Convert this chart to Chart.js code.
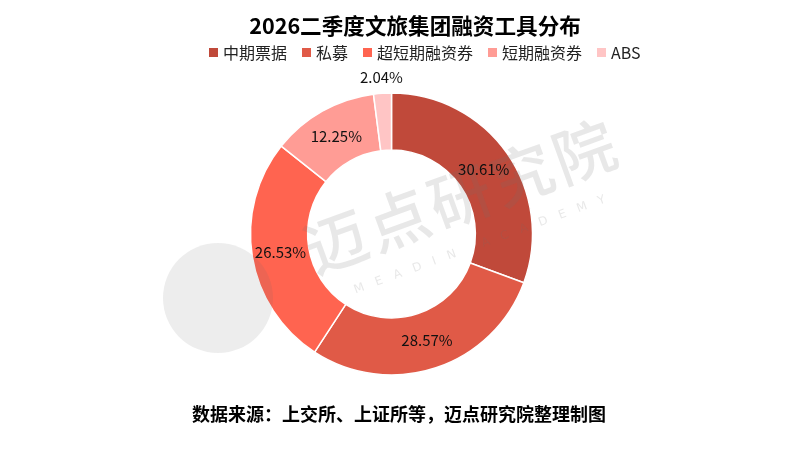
<!DOCTYPE html>
<html lang="zh">
<head>
<meta charset="utf-8">
<title>2026二季度文旅集团融资工具分布</title>
<script src="https://cdn.jsdelivr.net/npm/chart.js@4/dist/chart.umd.min.js"></script>
<style>
    html, body {
        margin: 0;
        padding: 0;
        background: #fff;
    }
    #wrap {
        position: relative;
        width: 800px;
        height: 456px;
        overflow: hidden;
        font-family: "Noto Sans CJK SC", "Noto Sans", sans-serif;
    }
    #chart {
        position: absolute;
        left: 0;
        top: 0;
    }
    #title {
        position: absolute;
        left: 30px;
        width: 770px;
        top: 10px;
        line-height: 30px;
        text-align: center;
        font-size: 21.6px;
        font-weight: bold;
        color: #000;
    }
    #legend {
        position: absolute;
        left: 209px;
        top: 41px;
        display: flex;
        align-items: center;
        font-size: 16px;
        line-height: 22px;
        color: #222;
    }
    #legend .item {
        display: flex;
        align-items: center;
        margin-right: 15px;
    }
    #legend .box {
        width: 9px;
        height: 9px;
        margin-right: 5px;
    }
    #source {
        position: absolute;
        left: 0;
        width: 798px;
        top: 399px;
        line-height: 28px;
        text-align: center;
        font-size: 18px;
        font-weight: bold;
        color: #000;
    }
</style>
</head>
<body>
<div id="wrap">
    <canvas id="chart" width="800" height="456"></canvas>
    <div id="title">2026二季度文旅集团融资工具分布</div>
    <div id="legend"></div>
    <div id="source">数据来源：上交所、上证所等，迈点研究院整理制图</div>
</div>
<script>
// Financing tool categories and their share (%), clockwise from 12 o'clock.
const categories = ['中期票据', '私募', '超短期融资券', '短期融资券', 'ABS'];
const shares = [30.61, 28.57, 26.53, 12.25, 2.04];
const sliceColors = ['#c0493a', '#e05a47', '#ff6450', '#ff9c95', '#ffc5c5'];

/**
 * Build the html legend from the categories.
 */
function buildLegend() {
    const legend = document.getElementById('legend');
    categories.forEach((name, i) => {
        const item = document.createElement('div');
        item.className = 'item';
        const box = document.createElement('span');
        box.className = 'box';
        box.style.background = sliceColors[i];
        const text = document.createElement('span');
        text.textContent = name;
        item.appendChild(box);
        item.appendChild(text);
        legend.appendChild(item);
    });
}

/**
 * Faint "迈点研究院" watermark drawn over the doughnut.
 */
const watermark = {
    id: 'watermark',
    afterDatasetsDraw(chart) {
        const ctx = chart.ctx;
        ctx.save();
        // round logo on the left
        ctx.fillStyle = 'rgba(110, 110, 110, 0.12)';
        ctx.beginPath();
        ctx.arc(218, 298, 55, 0, Math.PI * 2);
        ctx.fill();
        ctx.fillStyle = 'rgba(110, 110, 110, 0.16)';
        ctx.translate(462, 196);
        ctx.rotate(-20 * Math.PI / 180);
        ctx.textAlign = 'center';
        ctx.textBaseline = 'middle';
        ctx.font = '500 62px "Noto Sans CJK SC"';
        ctx.letterSpacing = '4px';
        ctx.fillText('迈点研究院', 0, 0);
        ctx.font = '12px "DejaVu Sans"';
        ctx.letterSpacing = '12px';
        ctx.fillText('MEADIN ACADEMY', 6, 52);
        ctx.restore();
    }
};

/**
 * Percentage labels in the middle of each ring slice; tiny slices go outside.
 */
const sliceLabels = {
    id: 'sliceLabels',
    afterDraw(chart) {
        const ctx = chart.ctx;
        const meta = chart.getDatasetMeta(0);
        ctx.save();
        ctx.font = '15px "Noto Sans CJK SC"';
        ctx.fillStyle = '#111';
        ctx.textAlign = 'center';
        ctx.textBaseline = 'middle';
        meta.data.forEach((arc, i) => {
            const p = arc.getProps(['x', 'y', 'startAngle', 'endAngle', 'innerRadius', 'outerRadius'], true);
            const mid = (p.startAngle + p.endAngle) / 2;
            const r = shares[i] < 5 ? p.outerRadius + 16 : (p.innerRadius + p.outerRadius) / 2;
            ctx.fillText(shares[i].toFixed(2) + '%', p.x + r * Math.cos(mid), p.y + r * Math.sin(mid));
        });
        ctx.restore();
    }
};

/**
 * Called when the DOM has been loaded.
 */
document.addEventListener('DOMContentLoaded', function() {
    buildLegend();
    const ctx = document.getElementById('chart').getContext('2d');
    new Chart(ctx, {
        type: 'doughnut',
        data: {
            labels: categories,
            datasets: [{
                data: shares,
                backgroundColor: sliceColors,
                borderColor: '#fff',
                borderWidth: 1.5,
                radius: 141,
                cutout: '59.5%'
            }]
        },
        options: {
            responsive: false,
            animation: false,
            layout: {
                padding: {left: 0, right: 17, top: 60, bottom: 48}
            },
            plugins: {
                legend: {display: false},
                title: {display: false},
                tooltip: {enabled: false}
            }
        },
        plugins: [watermark, sliceLabels]
    });
});
</script>
</body>
</html>
